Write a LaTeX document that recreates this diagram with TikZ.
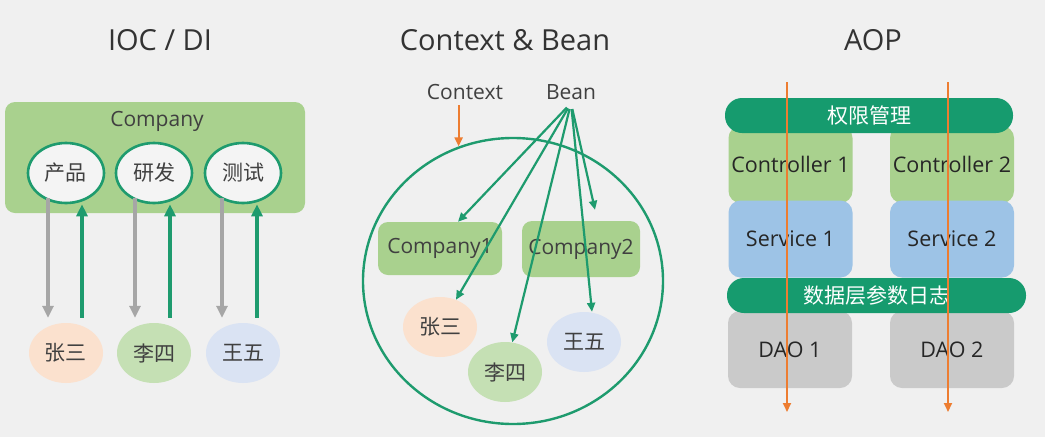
\documentclass[tikz,border=0pt]{standalone}
\usepackage{fontspec}
\setmainfont{Open Sans}
\newfontfamily\cjk{Noto Sans CJK SC}
\usepackage{tikz}
\usetikzlibrary{shapes.geometric,arrows.meta}
\usepackage{xcolor}
\definecolor{PageGray}{HTML}{F0F0F0}
\definecolor{OvalWhite}{HTML}{F4F4F4}
\definecolor{LeafGreen}{HTML}{A9D18E}
\definecolor{LineGreen}{HTML}{1E9B6E}
\definecolor{BarGreen}{HTML}{169B6E}
\definecolor{PeachFill}{HTML}{FBE1CE}
\definecolor{MintFill}{HTML}{C5E0B4}
\definecolor{SkyFill}{HTML}{DAE3F3}
\definecolor{BlueFill}{HTML}{9DC3E6}
\definecolor{StoneFill}{HTML}{CACACA}
\definecolor{ArrowOrange}{HTML}{ED7D31}
\definecolor{ArrowGray}{HTML}{A6A6A6}
\definecolor{TextGray}{HTML}{404040}
\definecolor{TitleGray}{HTML}{333333}

\tikzset{
  headline/.style={font=\fontsize{29}{34}\selectfont, text=TitleGray},
  caption/.style={font=\fontsize{21}{25}\selectfont, text=TextGray},
  groupbox/.style={fill=LeafGreen, rounded corners=10pt, inner sep=0pt, font=\fontsize{21}{25}\selectfont, text=TextGray},
  deptoval/.style={ellipse, draw=LineGreen, line width=2.6pt, fill=OvalWhite, minimum width=76pt, minimum height=60pt, inner sep=0pt, font=\cjk\fontsize{21}{25}\selectfont, text=TextGray},
  person/.style={ellipse, minimum width=74pt, minimum height=60pt, inner sep=0pt, font=\cjk\fontsize{21}{25}\selectfont, text=TextGray},
  ring/.style={ellipse, draw=LineGreen, line width=2.4pt, minimum width=300pt, minimum height=286pt, inner sep=0pt},
  layerbox/.style={rounded corners=12pt, minimum width=124pt, minimum height=77pt, inner sep=0pt, font=\fontsize{21.5}{25}\selectfont, text=black!85},
  aspectbar/.style={fill=BarGreen, rounded corners=17pt, minimum height=35pt, inner sep=0pt, font=\cjk\fontsize{21}{25}\selectfont, text=white},
  inject/.style={draw=ArrowGray, line width=3.2pt, -{Triangle[length=12pt,width=11pt]}, shorten <=-6pt, shorten >=5pt},
  provide/.style={draw=LineGreen, line width=3.2pt, -{Triangle[length=12pt,width=11pt]}, shorten <=5pt},
  beanarrow/.style={draw=LineGreen, line width=2.2pt, -{Triangle[length=9pt,width=8pt]}, shorten <=6pt},
  contextarrow/.style={draw=ArrowOrange, line width=2.2pt, -{Triangle[length=9pt,width=8pt]}, shorten <=2pt},
  flowarrow/.style={draw=ArrowOrange, line width=2pt, -{Triangle[length=9pt,width=8pt]}}
}

\begin{document}
\begin{tikzpicture}[x=1pt,y=-1pt]
    \fill[PageGray] (0,0) rectangle (1045,437);
    \useasboundingbox (0,0) rectangle (1045,437);

    \node[headline] (iocTitle) at (160,40) {IOC / DI};
    \node[headline] (beanTitle) at (505,40) {Context \& Bean};
    \node[headline] (aopTitle) at (873,40) {AOP};

    \node[groupbox, minimum width=300pt, minimum height=111pt] (company) at (155,157.5) {};
    \node[caption] (companyName) at (157,121) {Company};
    \node[deptoval] (product) at (66,173) {产品};
    \node[deptoval] (develop) at (154,173) {研发};
    \node[deptoval] (testing) at (243,173) {测试};

    \node[person, fill=PeachFill] (zhang) at (66,353) {张三};
    \node[person, fill=MintFill] (li) at (154,353) {李四};
    \node[person, fill=SkyFill] (wang) at (243,353) {王五};

    \draw[inject] ([xshift=-18pt]product.south) -- ([xshift=-18pt]zhang.north);
    \draw[provide] ([xshift=16pt]zhang.north) -- ([xshift=16pt]product.south);
    \draw[inject] ([xshift=-19pt]develop.south) -- ([xshift=-19pt]li.north);
    \draw[provide] ([xshift=16pt]li.north) -- ([xshift=16pt]develop.south);
    \draw[inject] ([xshift=-21pt]testing.south) -- ([xshift=-21pt]wang.north);
    \draw[provide] ([xshift=14pt]wang.north) -- ([xshift=14pt]testing.south);

    \node[caption] (context) at (465,92) {Context};
    \node[caption] (bean) at (571,92) {Bean};
    \node[ring] (container) at (513,281) {};
    \node[groupbox, minimum width=124pt, minimum height=53pt] (companyOne) at (440,248.5) {Company1};
    \node[groupbox, minimum width=118pt, minimum height=56pt] (companyTwo) at (581,249) {Company2};
    \node[person, fill=PeachFill] (zhangBean) at (440,327) {张三};
    \node[person, fill=MintFill] (liBean) at (505,372) {李四};
    \node[person, fill=SkyFill] (wangBean) at (584,342) {王五};

    \draw[contextarrow] (context.south -| container.112) -- (container.112);
    \draw[beanarrow] (bean.south) -- ([xshift=18pt]companyOne.north);
    \draw[beanarrow] (bean.south) -- ([xshift=14pt,yshift=11pt]companyTwo.north);
    \draw[beanarrow] (bean.south) -- (zhangBean);
    \draw[beanarrow] (bean.south) -- (liBean);
    \draw[beanarrow] (bean.south) -- ([xshift=8pt]wangBean.north);

    \node[layerbox, fill=LeafGreen] (controllerOne) at (790.5,164.5) {Controller 1};
    \node[layerbox, fill=LeafGreen] (controllerTwo) at (952,164.5) {Controller 2};
    \node[layerbox, fill=BlueFill] (serviceOne) at (790.5,239) {Service 1};
    \node[layerbox, fill=BlueFill] (serviceTwo) at (952,239) {Service 2};
    \node[layerbox, fill=StoneFill] (daoOne) at (790,349.5) {DAO 1};
    \node[layerbox, fill=StoneFill] (daoTwo) at (952,349.5) {DAO 2};
    \node[aspectbar, minimum width=288pt] (authBar) at (869,115.5) {权限管理};
    \node[aspectbar, minimum width=299pt] (logBar) at (876.5,295.5) {数据层参数日志};

    \coordinate (flowTopOne) at (787,82);
    \coordinate (flowEndOne) at (787,412);
    \coordinate (flowTopTwo) at (948,82);
    \coordinate (flowEndTwo) at (948,412);
    \draw[flowarrow] (flowTopOne) -- (flowEndOne);
    \draw[flowarrow] (flowTopTwo) -- (flowEndTwo);
   \end{tikzpicture}
\end{document}
